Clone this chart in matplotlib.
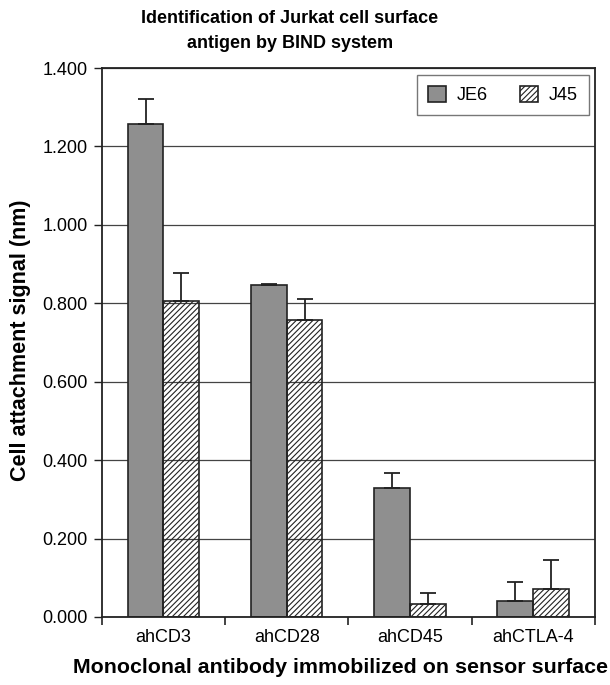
import matplotlib
matplotlib.use("Agg")
import matplotlib.pyplot as plt
import numpy as np

plt.rcParams['font.family'] = ['Liberation Sans', 'DejaVu Sans']
plt.rcParams['hatch.linewidth'] = 0.8

categories = ["ahCD3", "ahCD28", "ahCD45", "ahCTLA-4"]
je6 = [1.258, 0.846, 0.328, 0.040]
je6_err = [0.062, 0.004, 0.040, 0.048]
j45 = [0.806, 0.758, 0.032, 0.071]
j45_err = [0.070, 0.052, 0.029, 0.074]
yticks = [0.0, 0.2, 0.4, 0.6, 0.8, 1.0, 1.2, 1.4]

fig = plt.figure(figsize=(6.1, 6.85), dpi=100)
ax = fig.add_axes([0.167, 0.0993, 0.808, 0.8014])

x = np.arange(len(categories))
w = 0.29
ax.yaxis.grid(True, color='#444444', linewidth=0.9)
ax.set_axisbelow(True)

ax.bar(x - w/2, je6, w, color='#8f8f8f', edgecolor='#222222', linewidth=1.2,
       label='JE6', zorder=2)
ax.bar(x + w/2, j45, w, facecolor='none', edgecolor='#222222', hatch='//////',
       linewidth=1.2, label='J45', zorder=2)
ax.errorbar(x - w/2, je6, yerr=[np.zeros(4), je6_err], fmt='none', ecolor='#222222',
            elinewidth=1.3, capsize=6, capthick=1.3, zorder=3)
ax.errorbar(x + w/2, j45, yerr=[np.zeros(4), j45_err], fmt='none', ecolor='#222222',
            elinewidth=1.3, capsize=6, capthick=1.3, zorder=3)

ax.set_xlim(-0.5, len(categories) - 0.5)
ax.set_ylim(0, 1.4)
ax.set_yticks(yticks)
ax.set_yticklabels([f"{v:.3f}" for v in yticks], fontsize=13)
ax.set_xticks(x)
ax.set_xticklabels(categories, fontsize=13)
ax.tick_params(axis='x', length=0, pad=9)
ax.set_xticks(np.arange(len(categories) + 1) - 0.5, minor=True)
ax.tick_params(axis='x', which='minor', length=6, width=1.2, color='#222222')
ax.tick_params(axis='y', length=6, width=1.0, color='#222222', pad=4)
for s in ax.spines.values():
    s.set_color('#222222')
    s.set_linewidth(1.3)

ax.set_ylabel("Cell attachment signal (nm)", fontsize=15.5, fontweight='bold')
ax.yaxis.set_label_coords(-0.143, 0.505)
ax.set_xlabel("Monoclonal antibody immobilized on sensor surface", fontsize=15.4,
              fontweight='bold')
ax.xaxis.set_label_coords(0.484, -0.075)
fig.text(290 / 610, 1 - 31 / 685, "Identification of Jurkat cell surface\nantigen by BIND system",
         fontsize=13, fontweight='bold', ha='center', va='center', linespacing=1.55)

leg = ax.legend(loc='upper right', ncol=2, fontsize=13, frameon=True, fancybox=False,
                edgecolor='#555555', borderpad=0.6, handlelength=1.0, handleheight=1.0,
                columnspacing=1.8, handletextpad=0.6, borderaxespad=0,
                bbox_to_anchor=(0.988, 0.987))
leg.get_frame().set_linewidth(1.0)

fig.savefig("out.png", dpi=100)
